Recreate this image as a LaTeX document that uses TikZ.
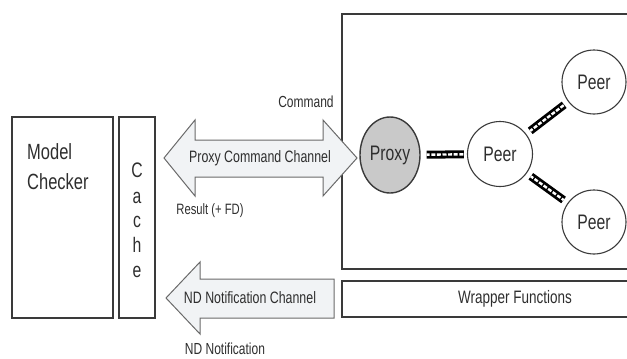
\documentclass[tikz,border=0pt]{standalone}
\usepackage{fontspec}
\setmainfont{Liberation Sans}[FakeStretch=0.75]
\usetikzlibrary{shapes.geometric}
\definecolor{boxline}{HTML}{3A3A3A}
\definecolor{txt}{HTML}{2E2E2E}
\definecolor{arrowfill}{HTML}{F1F3F5}
\definecolor{arrowline}{HTML}{6A6A6A}
\definecolor{proxyfill}{HTML}{C9C9C9}
\tikzset{
  frame/.style={draw=boxline, line width=1.3pt},
  lbl/.style={text=txt, inner sep=0pt},
  chan/.style={fill=arrowfill, draw=arrowline, line width=1pt, line join=miter},
  peernode/.style={circle, draw=boxline, line width=1.1pt, minimum size=65pt, inner sep=0pt, text=txt, font=\fontsize{21}{21}\selectfont},
  proxynode/.style={ellipse, draw=boxline, fill=proxyfill, line width=1.4pt, minimum width=60pt, minimum height=76pt, inner sep=0pt, text=txt, font=\fontsize{21}{21}\selectfont},
  cable/.style={line width=8pt, draw=black,
    postaction={draw=white, line width=2.4pt, dash pattern=on 4pt off 1.6pt, dash phase=1pt}}
}
\begin{document}
\begin{tikzpicture}[x=1pt, y=-1pt]
\useasboundingbox (0,0) rectangle (627,359);
% left boxes
\draw[frame] (12,117) rectangle (113,318);
\draw[frame] (119,117) rectangle (155,318);
\node[lbl, anchor=base west, font=\fontsize{22}{22}\selectfont] (model) at (27,159) {Model};
\node[lbl, anchor=base west, font=\fontsize{22}{22}\selectfont] (checker) at (27,189) {Checker};
\foreach \l/\yy [count=\i] in {C/177, a/203, c/227, h/252, e/277} {
  \node[lbl, anchor=base, font=\fontsize{21}{21}\selectfont] (cache\i) at (137,\yy) {\l};
}
% right boxes
\draw[frame] (640,14) -- (342,14) -- (342,269) -- (640,269);
\draw[frame] (640,281) -- (342,281) -- (342,317) -- (640,317);
\node[lbl, font=\fontsize{18}{18}\selectfont] (wrap) at (515,299) {Wrapper Functions};
% channels
\draw[chan] (164,158) -- (195,120) -- (195,140) -- (323,140) -- (323,120) -- (357,158)
  -- (323,196) -- (323,177) -- (195,177) -- (195,196) -- cycle;
\node[lbl, font=\fontsize{16.5}{16.5}\selectfont] (pcc) at (260,158) {Proxy Command Channel};
\node[lbl, font=\fontsize{16}{16}\selectfont] (cmd) at (306,102) {Command};
\node[lbl, font=\fontsize{15}{15}\selectfont] (res) at (210,211) {Result (+ FD)};
\draw[chan] (166,298) -- (200,262) -- (200,279) -- (334,279) -- (334,318) -- (200,318)
  -- (200,334) -- cycle;
\node[lbl, font=\fontsize{16.5}{16.5}\selectfont] (ndc) at (250,298) {ND Notification Channel};
\node[lbl, font=\fontsize{16}{16}\selectfont] (ndn) at (225,349) {ND Notification};
% graph
\node[proxynode] (proxy) at (390,155) {Proxy};
\node[peernode] (peer) at (500,154) {Peer};
\node[peernode, minimum size=64pt] (peertop) at (594,82) {Peer};
\node[peernode, minimum size=64pt] (peerbot) at (594,222) {Peer};
\draw[cable, shorten <=6pt, shorten >=3pt] (proxy) -- (peer);
\draw[cable, shorten <=5pt, shorten >=5pt] (peer) -- (peertop);
\draw[cable, shorten <=5pt, shorten >=5pt] (peer) -- (peerbot);
\end{tikzpicture}
\end{document}
